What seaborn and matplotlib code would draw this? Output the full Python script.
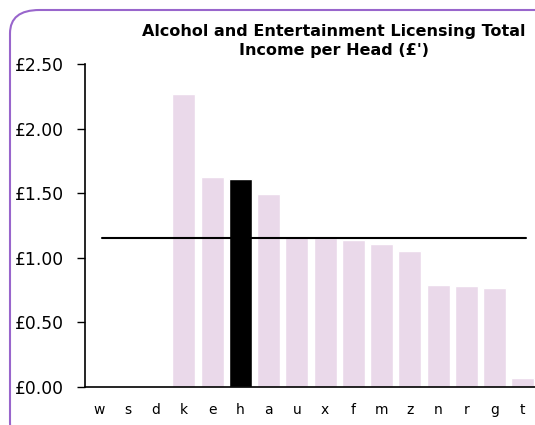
import matplotlib
matplotlib.use("Agg")
import matplotlib.pyplot as plt
import seaborn as sns
import pandas as pd
from matplotlib.patches import FancyBboxPatch

# valores
categorias = ["w", "s", "d", "k", "e", "h", "a", "u", "x", "f", "m", "z", "n", "r", "g", "t"]
valores = [0.0, 0.0, 0.0, 2.27, 1.625, 1.61, 1.49, 1.17, 1.15, 1.14, 1.11, 1.05, 0.79, 0.78, 0.765, 0.07]
destaque = "h"
media = 1.155
ticks_y = [0.0, 0.5, 1.0, 1.5, 2.0, 2.5]
titulo = "Alcohol and Entertainment Licensing Total\nIncome per Head (£')"

sns.set_style("white")
plt.rcParams["font.family"] = ["DejaVu Sans"]
plt.rcParams["text.color"] = "black"
plt.rcParams["xtick.color"] = "black"
plt.rcParams["ytick.color"] = "black"

df = pd.DataFrame({"cat": categorias, "valor": valores})
cores = {c: ("#000000" if c == destaque else "#EAD9EA") for c in categorias}

fig = plt.figure(figsize=(5.35, 4.25), dpi=100)
ax = fig.add_axes([85 / 535, 38 / 425, 452 / 535, 323 / 425])

sns.barplot(data=df, x="cat", y="valor", hue="cat", palette=cores,
            legend=False, width=0.82, ax=ax, saturation=1)

ax.plot([0.1, 15.1], [media, media], color="black", linewidth=1.5)

ax.set_ylim(0, 2.5)
ax.set_xlim(-0.5, 15.5)
ax.set_yticks(ticks_y)
ax.set_yticklabels([f"£{v:.2f}" for v in ticks_y], fontsize=12.3)
ax.tick_params(axis="y", which="major", left=True, length=6, width=1, pad=9, direction="out")
ax.tick_params(axis="x", bottom=False, labelsize=10, pad=8)
ax.set_xlabel("")
ax.set_ylabel("")
for s in ["top", "right"]:
    ax.spines[s].set_visible(False)
for s in ["left", "bottom"]:
    ax.spines[s].set_color("black")
    ax.spines[s].set_linewidth(1.2)

fig.text(334 / 535, 1 - 41 / 425, titulo, ha="center", va="center",
         fontsize=11.5, fontweight="bold", linespacing=1.3)

moldura = FancyBboxPatch((10 / 535, -0.05), 1.05, 1 - 10 / 425 + 0.05,
                         boxstyle="round,pad=0,rounding_size=0.055",
                         transform=fig.transFigure, fill=False,
                         edgecolor="#9966CC", linewidth=1.5, clip_on=False)
fig.patches.append(moldura)

fig.savefig("out.png", dpi=100)
